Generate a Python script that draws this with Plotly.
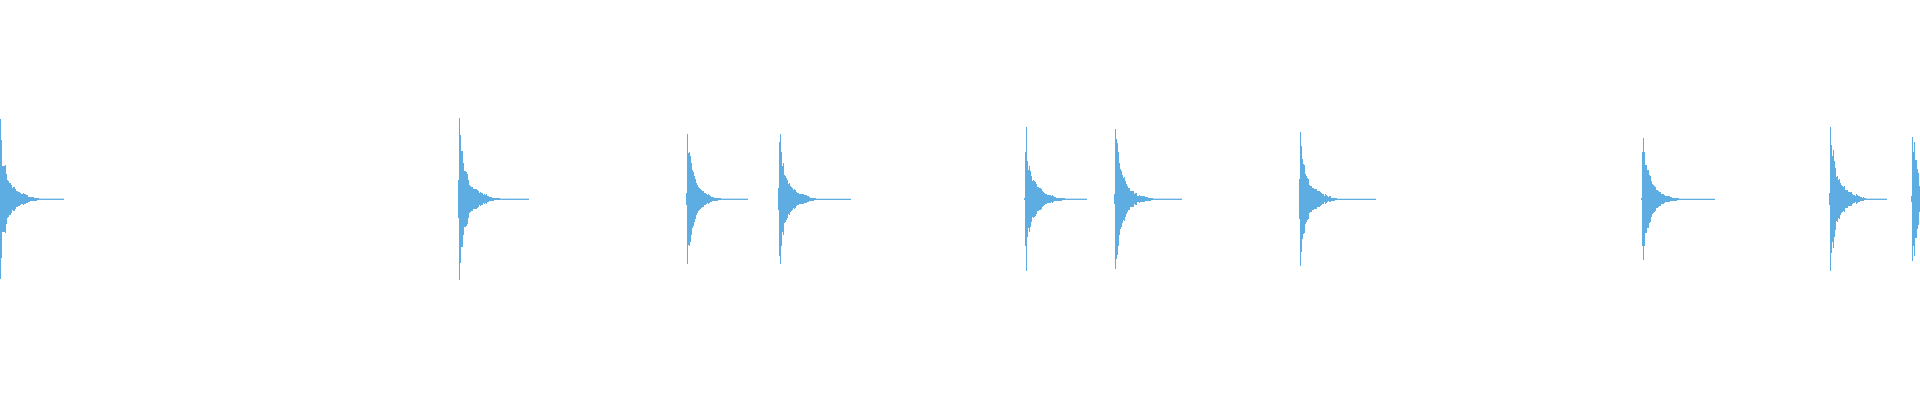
import plotly.graph_objects as go

# Waveform bursts: start sample (pixel column), per-column peak amplitude, and length of the near-silent tail
burst_starts = [0, 458, 686, 778, 1024, 1114, 1299, 1641, 1829, 1911]

amp_b1 = [80, 59, 33, 33, 33, 34, 25, 19, 18, 16, 16, 14, 11, 12, 12, 10, 8, 8, 7, 7, 6, 5, 5, 6, 5, 5, 4, 4, 2.5, 2.5, 2, 2, 2, 2, 1.5, 1.2, 1.2, 1, 1]
amp_b2 = [19, 81, 64, 48, 48, 36, 28, 28, 27, 25, 19, 14, 13, 12, 12, 10, 10, 10, 10, 9, 8, 6, 7, 6, 6, 4, 5, 4, 5, 3, 3, 2, 2, 2, 1.5, 1.5, 1, 1, 1, 1, 1, 1]
amp_b3 = [6, 65, 46, 47, 43, 36, 29, 27, 23, 20, 16, 14, 12, 11, 10, 9, 8, 8, 6, 6, 5, 4, 5, 4, 3, 2.5, 2, 2, 1.5, 1.5, 1.2, 1.2, 1, 1, 1]
amp_b4 = [11, 57, 65, 47, 33, 36, 24, 23, 21, 19, 15, 16, 13, 12, 11, 9, 10, 9, 7, 6, 6, 5, 5, 5, 5, 5, 4, 4, 4, 3, 3, 2, 1.5, 1.5, 1.5, 1.5, 1, 1]
amp_b5 = [1, 47, 72, 38, 29, 33, 28, 23, 18, 19, 18, 17, 15, 12, 12, 11, 11, 10, 8, 7, 6, 5, 5, 4, 4, 4, 4, 3, 4, 3, 2, 2, 1.5, 1.5, 1.5, 1.5, 1.2, 1.2, 1, 1, 1]
amp_b6 = [5, 70, 60, 56, 47, 36, 30, 28, 24, 21, 22, 18, 15, 13, 11, 11, 8, 8, 8, 8, 5, 6, 6, 3, 3, 4, 3, 3, 3, 3, 3, 2, 2, 2, 1.2, 1.2, 1.2, 1, 1]
amp_b7 = [20, 67, 53, 40, 35, 34, 25, 23, 21, 20, 14, 13, 13, 11, 11, 10, 10, 10, 8, 8, 8, 7, 6, 5, 5, 3, 5, 4, 3, 2, 3, 3, 1.5, 1.2, 1.2, 1.2, 1, 1]
amp_b8 = [1, 47, 61, 47, 34, 34, 29, 29, 24, 23, 18, 15, 14, 13, 12, 9, 9, 8, 7, 7, 5, 5, 5, 4, 3, 3, 3, 3, 3, 2, 2, 1.5, 1.5, 1.5, 1.2, 1.2, 1, 1]
amp_b9 = [6, 72, 54, 43, 49, 38, 31, 22, 23, 19, 20, 16, 14, 13, 12, 13, 9, 9, 9, 7, 7, 7, 7, 5, 4, 4, 3, 5, 4, 3, 3, 2, 2, 1.5, 2, 1, 1]
amp_b10 = [3, 62, 47, 57, 39, 39, 30, 26, 13]

burst_amps = [amp_b1, amp_b2, amp_b3, amp_b4, amp_b5, amp_b6, amp_b7, amp_b8, amp_b9, amp_b10]
burst_tail_len = [63, 70, 61, 72, 62, 67, 76, 73, 57, 9]

COLOR = "#5DADE2"

fig = go.Figure()

xs, ys, bases = [], [], []
for start, amps in zip(burst_starts, burst_amps):
    for i, a in enumerate(amps):
        xs.append(start + i)
        ys.append(2 * a)
        bases.append(-a)

fig.add_trace(go.Bar(
    x=xs, y=ys, base=bases, width=1,
    marker=dict(color=COLOR, line=dict(width=0)),
    hoverinfo="skip", showlegend=False,
))

tail_x, tail_y = [], []
for start, amps, tl in zip(burst_starts, burst_amps, burst_tail_len):
    if tl > len(amps):
        tail_x += [start + len(amps) - 0.5, start + tl + 0.5, None]
        tail_y += [0, 0, None]

fig.add_trace(go.Scatter(
    x=tail_x, y=tail_y, mode="lines",
    line=dict(color=COLOR, width=1.3),
    hoverinfo="skip", showlegend=False,
))

fig.update_layout(
    width=1920, height=400, autosize=False,
    margin=dict(l=0, r=0, t=0, b=0, pad=0),
    paper_bgcolor="white", plot_bgcolor="white",
    bargap=0,
    xaxis=dict(range=[-0.5, 1919.5], visible=False, fixedrange=True),
    yaxis=dict(range=[-200.7, 199.3], visible=False, fixedrange=True),
)

fig.write_html("out.html", config={"displayModeBar": False},
               post_script="document.body.style.margin='0';")
